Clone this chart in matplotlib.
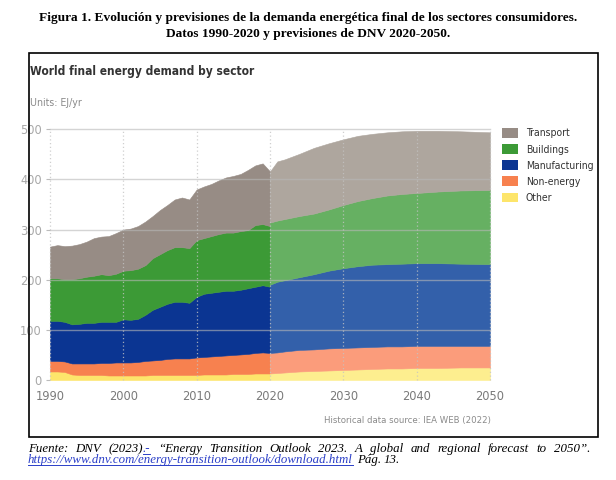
import matplotlib
matplotlib.use("Agg")
import matplotlib.pyplot as plt
import numpy as np
import os
from matplotlib.patches import Patch, Rectangle
from matplotlib.lines import Line2D
from matplotlib import font_manager
from matplotlib.font_manager import FontProperties

# ---------------- data ----------------
sectors = ["Other", "Non-energy", "Manufacturing", "Buildings", "Transport"]
legend_order = ["Transport", "Buildings", "Manufacturing", "Non-energy", "Other"]

years_hist = list(range(1990, 2021))
other_hist = [17, 17, 16, 11, 10, 10, 10, 10, 9, 9, 9, 9, 9, 9, 10, 10, 10, 10, 10, 10,
              10, 11, 11, 11, 11, 12, 12, 12, 13, 13, 13]
nonenergy_hist = [21, 21, 21, 22, 23, 23, 23, 24, 25, 26, 26, 26, 27, 29, 29, 30, 32, 33, 33, 33,
                  35, 35, 36, 37, 38, 38, 39, 40, 41, 42, 41]
manufacturing_hist = [80, 80, 79, 78, 79, 81, 81, 82, 82, 81, 86, 85, 86, 92, 101, 106, 110, 113, 113, 111,
                      121, 126, 127, 128, 129, 128, 129, 131, 132, 134, 132]
buildings_hist = [85, 85, 85, 90, 91, 92, 94, 95, 93, 96, 97, 99, 100, 99, 103, 105, 107, 109, 109, 109,
                  113, 111, 113, 115, 116, 116, 117, 116, 123, 122, 121]
transport_hist = [63, 66, 66, 67, 68, 70, 75, 75, 78, 81, 82, 83, 85, 87, 84, 88, 90, 95, 99, 97,
                  101, 103, 104, 107, 110, 113, 114, 120, 119, 121, 109]

years_fc = [2020, 2021, 2022, 2024, 2026, 2028, 2030, 2032, 2034, 2036, 2038, 2040, 2043, 2046, 2050]
other_fc = [13, 14, 15, 17, 18, 19, 20, 21, 22, 23, 23, 24, 24, 25, 25]
nonenergy_fc = [41, 41, 42, 43, 43, 44, 44, 44, 44, 44, 44, 44, 44, 43, 43]
manufacturing_fc = [136, 141, 142, 145, 150, 155, 159, 162, 164, 164, 165, 165, 165, 164, 163]
buildings_fc = [124, 122, 122, 122, 121, 122, 126, 130, 133, 137, 139, 140, 143, 146, 148]
transport_fc = [102, 118, 119, 124, 131, 132, 131, 130, 128, 126, 125, 124, 121, 118, 115]

x_ticks = [1990, 2000, 2010, 2020, 2030, 2040, 2050]
y_ticks = [0, 100, 200, 300, 400, 500]

title_line1 = "Figura 1. Evolución y previsiones de la demanda energética final de los sectores consumidores."
title_line2 = "Datos 1990-2020 y previsiones de DNV 2020-2050."
chart_title = "World final energy demand by sector"
units_text = "Units: EJ/yr"
source_text = "Historical data source: IEA WEB (2022)"
link_text = "https://www.dnv.com/energy-transition-outlook/download.html"

# ---------------- styles ----------------
hist_colors = {"Transport": "#978c85", "Buildings": "#3c9a36", "Manufacturing": "#0b3592",
               "Non-energy": "#f7814f", "Other": "#fde56b"}
fc_colors = {"Transport": "#aea69e", "Buildings": "#66b062", "Manufacturing": "#3360aa",
             "Non-energy": "#fb9c7b", "Other": "#fdee8f"}


def find_condensed(bold):
    cands = []
    for f in font_manager.fontManager.ttflist:
        fn = os.path.basename(f.fname).lower()
        if ("condensed" in fn or "narrow" in fn) and "serif" not in fn and "mono" not in fn \
                and "italic" not in fn and "oblique" not in fn:
            isbold = "bold" in fn
            if isbold == bold and "semi" not in fn and "extra" not in fn and "light" not in fn \
                    and "black" not in fn and "medium" not in fn and "thin" not in fn:
                cands.append(f.fname)
    cands.sort()
    return cands[0] if cands else None


reg_path = find_condensed(False)
bold_path = find_condensed(True)


def fp(size, bold=False):
    path = bold_path if bold else reg_path
    if path:
        return FontProperties(fname=path, size=size)
    return FontProperties(family="Liberation Sans", size=size * 0.92, weight="bold" if bold else "normal")


W, H = 616, 480
fig = plt.figure(figsize=(W / 100, H / 100), dpi=100)
fig.patch.set_facecolor("white")
renderer = fig.canvas.get_renderer()


def fx(px):
    return px / W


def fy(py):
    return 1 - py / H


# ---------------- axes ----------------
ax = fig.add_axes([50 / W, 1 - 380 / H, 440 / W, (380 - 129.3) / H])
ax.set_xlim(1990, 2050)
ax.set_ylim(0, 500)

hist_series = {"Other": other_hist, "Non-energy": nonenergy_hist, "Manufacturing": manufacturing_hist,
               "Buildings": buildings_hist, "Transport": transport_hist}
fc_series = {"Other": other_fc, "Non-energy": nonenergy_fc, "Manufacturing": manufacturing_fc,
             "Buildings": buildings_fc, "Transport": transport_fc}

for yrs, series, cols in [(years_hist, hist_series, hist_colors), (years_fc, fc_series, fc_colors)]:
    base = np.zeros(len(yrs))
    for s in sectors:
        top = base + np.array(series[s], dtype=float)
        ax.fill_between(yrs, base, top, facecolor=cols[s], edgecolor=cols[s], lw=0.4, zorder=2)
        base = top

for v in y_ticks[1:]:
    ax.axhline(v, color="#b8b8b8", lw=1.0, alpha=0.6, zorder=5, clip_on=False)
for xv in x_ticks:
    ax.axvline(xv, ymax=1.0, color="#c4c4c4", lw=0.9, ls=(0, (1, 2)), alpha=0.8, zorder=5, clip_on=False)

for sp in ax.spines.values():
    sp.set_visible(False)
ax.set_facecolor("none")
ax.set_xticks(x_ticks)
ax.set_yticks(y_ticks)
ax.set_xticklabels([str(t) for t in x_ticks], fontproperties=fp(9.2), color="#7a7a7a")
ax.set_yticklabels([str(t) for t in y_ticks], fontproperties=fp(9.2), color="#a8a8a8")
ax.tick_params(axis="x", length=0, pad=7)
ax.tick_params(axis="y", length=3, color="#bbbbbb", pad=3)

# ---------------- legend ----------------
handles = [Patch(facecolor=hist_colors[s], edgecolor="none") for s in legend_order]
leg_size = 7.5
leg = fig.legend(handles, legend_order, loc="upper left", bbox_to_anchor=(fx(502), fy(128)),
                 frameon=False, prop=fp(leg_size), handlelength=16 / (leg_size * 1.389),
                 handleheight=11 / (leg_size * 1.389), handletextpad=8 / (leg_size * 1.389),
                 labelspacing=0.55, borderpad=0, borderaxespad=0)
for t in leg.get_texts():
    t.set_color("#333333")

# ---------------- frame & texts ----------------
fig.patches.append(Rectangle((fx(29), fy(437)), (598 - 29) / W, (437 - 53) / H,
                             transform=fig.transFigure, fill=False, ec="black", lw=1.2, zorder=10))

t1 = fig.text(fx(308), fy(18), title_line1, ha="center", va="center", family="Liberation Serif",
              fontweight="bold", fontsize=10)
w = t1.get_window_extent(renderer).width
t1.set_fontsize(10 * 540 / w)
fig.text(fx(308), fy(34), title_line2, ha="center", va="center", family="Liberation Serif",
         fontweight="bold", fontsize=t1.get_fontsize())

fig.text(fx(30), fy(72), chart_title, ha="left", va="center", fontproperties=fp(8.6, True),
         color="#333333")
fig.text(fx(30), fy(103), units_text, ha="left", va="center", fontproperties=fp(7.6),
         color="#8a8a8a")
fig.text(fx(491), fy(421), source_text, ha="right", va="center", fontproperties=fp(6.8),
         color="#8a8a8a")

# footer
blue = "#2a3ec8"
ffam = "Liberation Serif"
ft = fig.text(0, 0, link_text, fontsize=10, family=ffam, style="italic")
lw_ = ft.get_window_extent(renderer).width
ft.remove()
fsize = 10 * (352 - 28) / lw_


def place(tok, x, ybase, color, underline):
    t = fig.text(fx(x), fy(ybase), tok, ha="left", va="baseline", fontsize=fsize,
                 family=ffam, style="italic", color=color)
    w = t.get_window_extent(renderer).width
    if underline:
        fig.add_artist(Line2D([fx(x), fx(x + w)], [fy(ybase + 1.5), fy(ybase + 1.5)],
                              transform=fig.transFigure, color=color, lw=0.7))
    return w


line1 = [("Fuente:", "black", False, False), ("DNV", "black", False, False),
         ("(2023)", "black", False, False), (".-", blue, True, True),
         ("“Energy", "black", False, False), ("Transition", "black", False, False),
         ("Outlook", "black", False, False), ("2023.", "black", False, False),
         ("A", "black", False, False), ("global", "black", False, False),
         ("and", "black", False, False), ("regional", "black", False, False),
         ("forecast", "black", False, False), ("to", "black", False, False),
         ("2050”.", "black", False, False)]

widths = []
for tok, c, u, j in line1:
    tt = fig.text(0, 0, tok, fontsize=fsize, family=ffam, style="italic")
    widths.append(tt.get_window_extent(renderer).width)
    tt.remove()
ngaps = sum(1 for i, tk in enumerate(line1) if i > 0 and not tk[3])
gap = (590 - 28 - sum(widths)) / ngaps
x = 28
for i, (tok, c, u, j) in enumerate(line1):
    if i > 0 and not j:
        x += gap
    place(tok, x, 452, c, u)
    x += widths[i]

x = 28
x += place(link_text, x, 463, blue, True)
x += 4
x += place("Pág.", x, 463, "black", False)
x += 3
place("13.", x, 463, "black", False)

fig.savefig("out.png", dpi=100, facecolor="white")
